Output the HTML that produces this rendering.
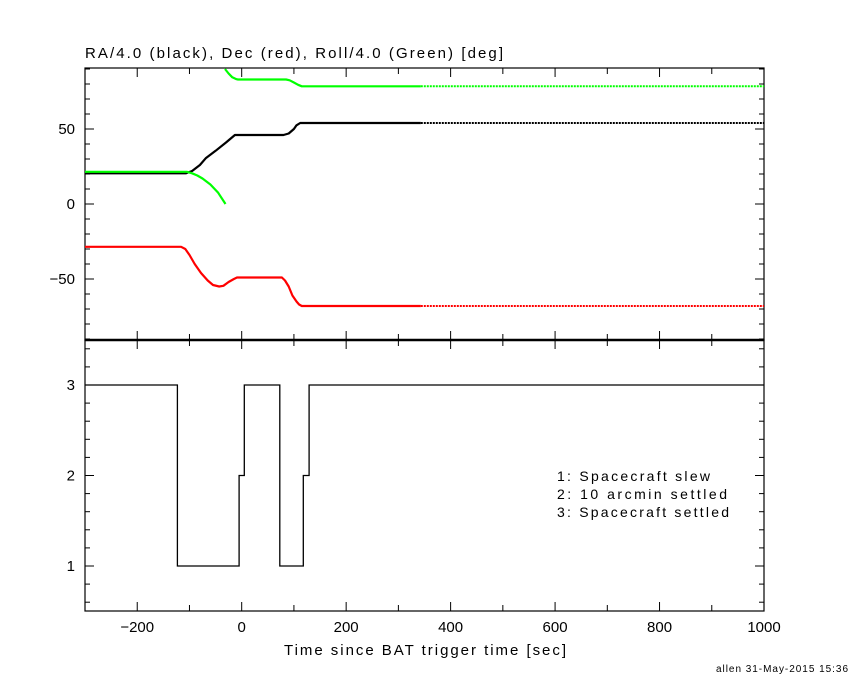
<!DOCTYPE html>
<html><head><meta charset="utf-8"><style>
body{margin:0;background:#fff;}
svg{display:block;font-family:"Liberation Sans",sans-serif;}
</style></head><body>
<svg id="chart" width="850" height="680" viewBox="0 0 850 680" xmlns="http://www.w3.org/2000/svg">
<rect width="850" height="680" fill="#fff"/>
<text x="85" y="58" font-size="15" textLength="418" lengthAdjust="spacing">RA/4.0 (black), Dec (red), Roll/4.0 (Green) [deg]</text>
<text x="284" y="655" font-size="15" textLength="282" lengthAdjust="spacing">Time since BAT trigger time [sec]</text>
<g font-size="14">
<text x="557" y="481" textLength="153" lengthAdjust="spacing">1: Spacecraft slew</text>
<text x="557" y="499" textLength="170" lengthAdjust="spacing">2: 10 arcmin settled</text>
<text x="557" y="517" textLength="172" lengthAdjust="spacing">3: Spacecraft settled</text>
</g>
<text x="716" y="672" font-size="10" textLength="132" lengthAdjust="spacing">allen 31-May-2015 15:36</text>
<g id="g"></g>
</svg>
<script>
const xTicks=[-200,0,200,400,600,800,1000];
const topTicks=[-50,0,50];
const botTicks=[1,2,3];
const raT=[-300,-107,-95,-80,-69,-50,-30,-13,80,90,100,105,112,1000];
const raV=[20.5,20.5,22,26,30.5,35.5,41,46,46,47,50,52.5,54,54];
const decT=[-300,-116,-108,-100,-90,-78,-65,-55,-43,-35,-25,-15,-9,77,83,90,97,105,110,115,1000];
const decV=[-28.5,-28.5,-30,-34,-40,-46,-51,-54,-55,-54.5,-52,-50,-49,-49,-51,-55,-61,-65,-67,-68,-68];
const rollAT=[-300,-105,-95,-85,-75,-60,-45,-31];
const rollAV=[21.5,21.5,20.5,19,17,13,7.5,0];
const rollBT=[-32,-25,-18,-10,-7,85,92,100,108,115,1000];
const rollBV=[90,87,84.5,83.2,83,83,82.5,81,79.5,78.5,78.5];
const stepT=[-300,-123,-5,5,73,118,129,1000];
const stepV=[3,1,2,3,1,2,3,3];
const dottedFrom=343;
const L=85,R=764,T1=68,B1=340,B2=611;
const X=t=>L+(t+300)*(R-L)/1300;
const Y1=v=>204-v*1.5;
const Y2=v=>566-(v-1)*90.5;
const g=document.getElementById('g');
const NS='http://www.w3.org/2000/svg';
function mk(tag,attrs){const e=document.createElementNS(NS,tag);for(const k in attrs)e.setAttribute(k,attrs[k]);g.appendChild(e);return e;}
function line(x1,y1,x2,y2,w){return mk('line',{x1,y1,x2,y2,stroke:'#000','stroke-width':w||1});}
let f1=mk('rect',{x:L,y:T1,width:R-L,height:B1-T1,fill:'none',stroke:'#000','stroke-width':1.2});


let f2=mk('rect',{x:L,y:B1,width:R-L,height:B2-B1,fill:'none',stroke:'#000','stroke-width':1.2});


let sep=line(L,B1,R,B1,2.5);


for(let t=-300;t<=1000;t+=100){const x=X(t);const len=(t%200===0)?9:6;
 line(x,B2,x,B2-len);line(x,B1,x,B1+len);line(x,B1,x,B1-len);line(x,T1,x,T1+len);}
xTicks.forEach(t=>{const e=mk('text',{x:X(t),y:632,'font-size':15,'text-anchor':'middle'});e.textContent=t<0?'\u2212'+(-t):t;

});
for(let v=-90;v<=90;v+=10){const y=Y1(v);if(y<T1||y>B1)continue;const len=(v%50===0)?9:5;line(L,y,L+len,y);line(R,y,R-len,y);}
topTicks.forEach(v=>{const e=mk('text',{x:75,y:Y1(v)+5,'font-size':15,'text-anchor':'end'});e.textContent=v<0?'\u2212'+(-v):v;

});
for(let v=0.6;v<=3.45;v+=0.2){const y=Y2(v);const maj=Math.abs(v-Math.round(v))<0.01;const len=maj?9:5;line(L,y,L+len,y);line(R,y,R-len,y);}
botTicks.forEach(v=>{const e=mk('text',{x:75,y:Y2(v)+5,'font-size':15,'text-anchor':'end'});e.textContent=v;

});
function series(ts,vs,color,name,yf){
 let solid=[],dot=[];
 for(let i=0;i<ts.length;i++){
  if(ts[i]<=dottedFrom)solid.push([ts[i],vs[i]]);
  else{ if(i>0&&ts[i-1]<dottedFrom){const f=(dottedFrom-ts[i-1])/(ts[i]-ts[i-1]);const pv=vs[i-1]+f*(vs[i]-vs[i-1]);solid.push([dottedFrom,pv]);dot.push([dottedFrom,pv]);} dot.push([ts[i],vs[i]]);}
 }
 const p=a=>a.map(q=>X(q[0]).toFixed(1)+','+yf(q[1]).toFixed(1)).join(' ');
 const s=mk('polyline',{points:p(solid),fill:'none',stroke:color,'stroke-width':2.2,'stroke-linejoin':'round'});
 
 
 if(dot.length){const d=mk('polyline',{points:p(dot),fill:'none',stroke:color,'stroke-width':2,'stroke-dasharray':'2 1'});
 
 }
}
series(raT,raV,'#000','ra-line',Y1);
series(decT,decV,'#ff0000','dec-line',Y1);
series(rollAT,rollAV,'#00ff00','roll-line-a',Y1);
series(rollBT,rollBV,'#00ff00','roll-line-b',Y1);
let pts=[];for(let i=0;i<stepT.length;i++){if(i>0)pts.push([stepT[i],stepV[i-1]]);pts.push([stepT[i],stepV[i]]);}
const st=mk('polyline',{points:pts.map(q=>X(q[0]).toFixed(1)+','+Y2(q[1]).toFixed(1)).join(' '),fill:'none',stroke:'#000','stroke-width':1.3});


</script>
</body></html>
